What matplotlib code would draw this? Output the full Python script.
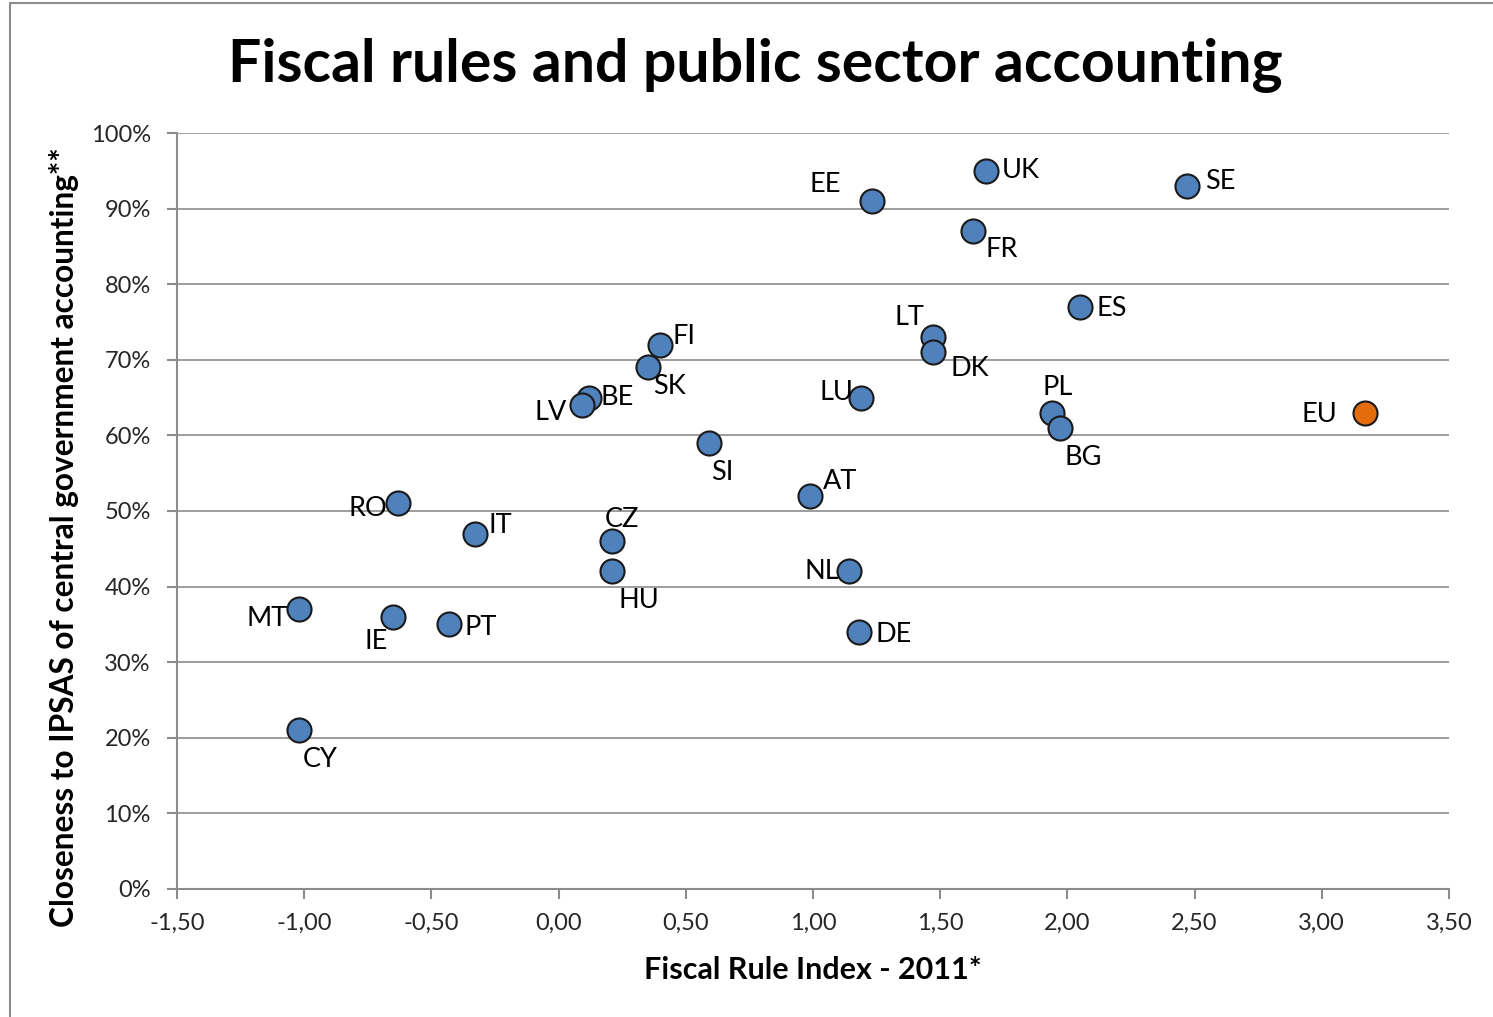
import matplotlib.pyplot as plt
from matplotlib.ticker import FuncFormatter, MultipleLocator
from matplotlib.patches import Rectangle

plt.rcParams['font.family'] = ['Lato', 'DejaVu Sans']

# Fiscal rule index (x) and closeness to IPSAS in % (y)
countries = ['UK', 'SE', 'EE', 'FR', 'ES', 'LT', 'DK', 'FI', 'SK', 'BE', 'LV', 'LU',
             'PL', 'BG', 'SI', 'AT', 'RO', 'IT', 'CZ', 'HU', 'NL', 'MT', 'IE', 'PT',
             'DE', 'CY']
fri = [1.68, 2.47, 1.23, 1.63, 2.05, 1.47, 1.47, 0.40, 0.35, 0.12, 0.09, 1.19,
       1.94, 1.97, 0.59, 0.99, -0.63, -0.33, 0.21, 0.21, 1.14, -1.02, -0.65, -0.43,
       1.18, -1.02]
ipsas = [95, 93, 91, 87, 77, 73, 71, 72, 69, 65, 64, 65,
         63, 61, 59, 52, 51, 47, 46, 42, 42, 37, 36, 35,
         34, 21]
eu_x = 3.17
eu_y = 63

# label placement: (dx, dy) in points, horizontal alignment
lab = {
    'UK': (11, 0, 'left'), 'SE': (13, 3, 'left'), 'EE': (-22, 12, 'right'),
    'FR': (9, -13, 'left'), 'ES': (12, -1, 'left'), 'LT': (-6, 14, 'right'),
    'DK': (13, -12, 'left'), 'FI': (9, 6, 'left'), 'SK': (4, -14, 'left'),
    'BE': (8, 0, 'left'), 'LV': (-11, -5, 'right'), 'LU': (-6, 4, 'right'),
    'PL': (4, 18, 'center'), 'BG': (17, -21, 'center'), 'SI': (10, -21, 'center'),
    'AT': (9, 10, 'left'), 'RO': (-8, -4, 'right'), 'IT': (10, 6, 'left'),
    'CZ': (7, 16, 'center'), 'HU': (19, -21, 'center'), 'NL': (-7, 0, 'right'),
    'MT': (-8, -7, 'right'), 'IE': (-12, -18, 'center'), 'PT': (11, -2, 'left'),
    'DE': (12, -2, 'left'), 'CY': (15, -21, 'center'),
}

fig = plt.figure(figsize=(14.93, 10.17), dpi=100)
ax = fig.add_axes([0.1186, 0.1259, 0.8519, 0.7433])

fig.patches.append(Rectangle((10 / 1493, -0.1), 1.2, 1.1 - 3 / 1017,
                             transform=fig.transFigure, fill=False,
                             edgecolor='#8c8c8c', lw=1.5, zorder=0))

ax.scatter(fri, ipsas, s=300, c='#4F81BD', edgecolors='#1a1a1a',
           linewidths=1.5, zorder=3, clip_on=False)
ax.scatter([eu_x], [eu_y], s=300, c='#E46C0A', edgecolors='#1a1a1a',
           linewidths=1.5, zorder=3, clip_on=False)

for c, x, y in zip(countries, fri, ipsas):
    dx, dy, ha = lab[c]
    ax.annotate(c, (x, y), xytext=(dx, dy), textcoords='offset points',
                ha=ha, va='center', fontsize=19.5, color='black')
ax.annotate('EU', (eu_x, eu_y), xytext=(-20, -1), textcoords='offset points',
            ha='right', va='center', fontsize=19.5, color='black')

ax.set_xlim(-1.5, 3.5)
ax.set_ylim(0, 100)
ax.xaxis.set_major_locator(MultipleLocator(0.5))
ax.yaxis.set_major_locator(MultipleLocator(10))
ax.xaxis.set_major_formatter(FuncFormatter(lambda v, p: f'{v:.2f}'.replace('.', ',')))
ax.yaxis.set_major_formatter(FuncFormatter(lambda v, p: f'{v:.0f}%'))

ax.grid(axis='y', color='#8c8c8c', lw=1.2)
ax.set_axisbelow(True)
for s in ['top', 'right']:
    ax.spines[s].set_visible(False)
for s in ['left', 'bottom']:
    ax.spines[s].set_color('#8c8c8c')
    ax.spines[s].set_linewidth(1.5)
ax.tick_params(axis='both', color='#8c8c8c', width=1.5, length=7,
               labelsize=17, labelcolor='#262626')
ax.tick_params(axis='x', pad=10)
ax.tick_params(axis='y', pad=12)

ax.set_xlabel('Fiscal Rule Index - 2011*', fontsize=22, fontweight='bold', labelpad=16)
ax.set_ylabel('Closeness to IPSAS of central government accounting**',
              fontsize=22.8, fontweight='bold')
ax.yaxis.set_label_coords(-0.077, 0.466)
fig.text(0.506, 0.936, 'Fiscal rules and public sector accounting',
         ha='center', va='center', fontsize=42.5, fontweight='bold')

fig.savefig('out.png', dpi=100)
